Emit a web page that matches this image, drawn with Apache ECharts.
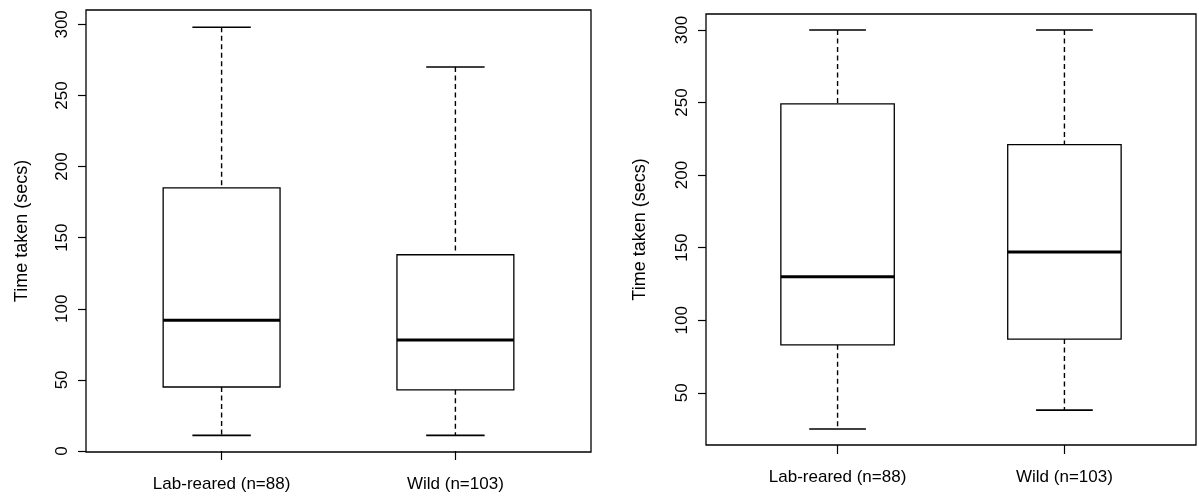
<!DOCTYPE html>
<html>
<head>
<meta charset="utf-8">
<title>Time taken: lab-reared vs wild</title>
<script src="https://cdn.jsdelivr.net/npm/echarts@6/dist/echarts.min.js"></script>
<style>
  html, body { margin: 0; padding: 0; background: #fff; }
  #chart { width: 1199px; height: 497px; }
</style>
</head>
<body>
<div id="chart"></div>
<script>
// Group names shown under each box
const categories = ['Lab-reared (n=88)', 'Wild (n=103)'];

// Five-number summaries: [lower whisker, Q1, median, Q3, upper whisker]
const leftPanelStats = [
  [11, 45, 92, 185, 298],
  [11, 43, 78, 138, 270]
];
const rightPanelStats = [
  [25, 83, 130, 249, 300],
  [38, 87, 147, 221, 300]
];

// Tick labels
const leftTicks = [0, 50, 100, 150, 200, 250, 300];
const rightTicks = [50, 100, 150, 200, 250, 300];

const axisTitle = 'Time taken (secs)';
const FONT = '"Liberation Sans", Arial, Helvetica, sans-serif';
const BOX_WIDTH = 0.5;   // in x-axis units
const positions = [1, 2];

function toRows(stats) {
  return stats.map((s, i) => [positions[i]].concat(s));
}

function renderBox(params, api) {
  const x = api.value(0);
  const lo = api.coord([x, api.value(1)]);
  const q1 = api.coord([x, api.value(2)]);
  const md = api.coord([x, api.value(3)]);
  const q3 = api.coord([x, api.value(4)]);
  const hi = api.coord([x, api.value(5)]);
  const half = api.size([BOX_WIDTH, 0])[0] / 2;
  const cap = half / 2;
  const cx = lo[0];
  const dashed = { stroke: '#000', lineWidth: 1.4, lineDash: [5, 3.5], fill: null };
  const solid = { stroke: '#000', lineWidth: 1.6, fill: null };
  return {
    type: 'group',
    children: [
      { type: 'line', shape: { x1: cx, y1: hi[1], x2: cx, y2: q3[1] }, style: dashed },
      { type: 'line', shape: { x1: cx, y1: q1[1], x2: cx, y2: lo[1] }, style: dashed },
      { type: 'line', shape: { x1: cx - cap, y1: hi[1], x2: cx + cap, y2: hi[1] }, style: solid },
      { type: 'line', shape: { x1: cx - cap, y1: lo[1], x2: cx + cap, y2: lo[1] }, style: solid },
      { type: 'rect', shape: { x: cx - half, y: q3[1], width: half * 2, height: q1[1] - q3[1] },
        style: { fill: '#fff', stroke: '#000', lineWidth: 1.3 } },
      { type: 'line', shape: { x1: cx - half, y1: md[1], x2: cx + half, y2: md[1] },
        style: { stroke: '#000', lineWidth: 3 } }
    ]
  };
}

function xAxisFor(gridIndex) {
  return {
    type: 'value', gridIndex: gridIndex, min: 0.42, max: 2.58,
    splitLine: { show: false },
    axisLine: { show: false },
    axisTick: { show: true, customValues: positions, length: 9, lineStyle: { color: '#000', width: 1.2 } },
    axisLabel: {
      customValues: positions, margin: 24, color: '#000', fontFamily: FONT, fontSize: 17,
      formatter: v => categories[Math.round(v) - 1] || ''
    }
  };
}

function yAxisFor(gridIndex, min, max, ticks, gap) {
  return {
    type: 'value', gridIndex: gridIndex, min: min, max: max,
    splitLine: { show: false },
    axisLine: { show: false },
    axisTick: { show: true, customValues: ticks, length: 8, lineStyle: { color: '#000', width: 1.2 } },
    axisLabel: { customValues: ticks, rotate: 90, margin: 15, color: '#000', fontFamily: FONT, fontSize: 17 },
    name: axisTitle, nameLocation: 'middle', nameRotate: 90, nameGap: gap,
    nameTextStyle: { color: '#000', fontFamily: FONT, fontSize: 18 }
  };
}

const chart = echarts.init(document.getElementById('chart'), null, { renderer: 'canvas' });
chart.setOption({
  animation: false,
  backgroundColor: '#fff',
  grid: [
    { left: 86, top: 10, right: 608, bottom: 45, show: true, borderColor: '#000', borderWidth: 1.3, backgroundColor: 'transparent' },
    { left: 706, top: 14, right: 3, bottom: 52, show: true, borderColor: '#000', borderWidth: 1.3, backgroundColor: 'transparent' }
  ],
  xAxis: [xAxisFor(0), xAxisFor(1)],
  yAxis: [
    yAxisFor(0, -0.7, 310.1, leftTicks, 55),
    yAxisFor(1, 14, 311, rightTicks, 57)
  ],
  series: [
    { type: 'custom', xAxisIndex: 0, yAxisIndex: 0, renderItem: renderBox,
      encode: { x: 0, y: [1, 2, 3, 4, 5] }, data: toRows(leftPanelStats) },
    { type: 'custom', xAxisIndex: 1, yAxisIndex: 1, renderItem: renderBox,
      encode: { x: 0, y: [1, 2, 3, 4, 5] }, data: toRows(rightPanelStats) }
  ]
});
</script>
</body>
</html>
